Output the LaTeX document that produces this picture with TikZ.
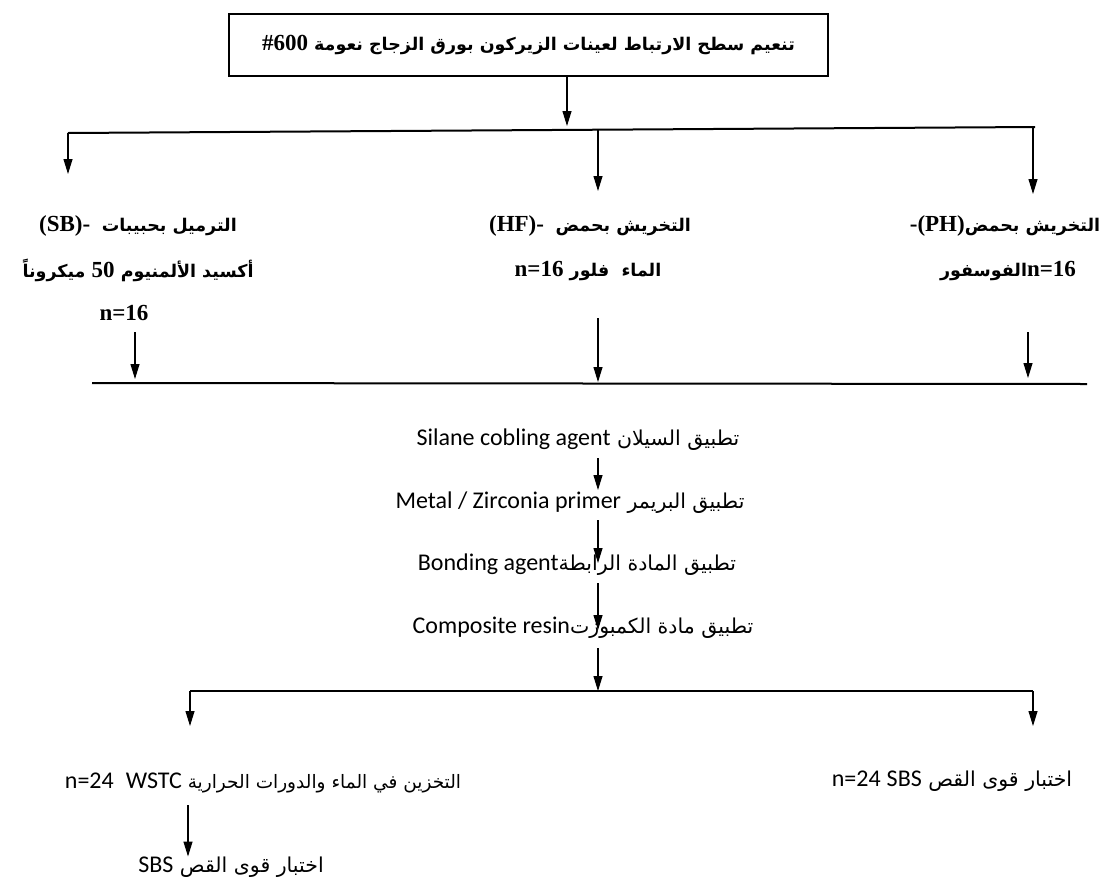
\documentclass[tikz,border=0pt]{standalone}
\usepackage{fontspec}
\setmainfont{Liberation Serif}
\newfontfamily\arb[Script=Arabic]{DejaVu Sans}
\newfontfamily\calf{Carlito}
\newfontfamily\serifb{Liberation Serif Bold}
\TeXXeTstate=1
\usetikzlibrary{arrows.meta}
\tikzset{
  bt/.style={inner sep=0pt, font=\bfseries\fontsize{23}{26}\selectfont},
  rt/.style={inner sep=0pt, font=\fontsize{24}{28}\selectfont},
  ln/.style={line width=1.1pt},
  hl/.style={line width=2pt},
  arr/.style={line width=1.1pt, -{Triangle[length=15pt,width=9pt]}},
  topbox/.style={draw, line width=1.4pt, minimum width=599pt, minimum height=62pt, inner sep=0pt}
}
\newcommand{\AB}[1]{{\arb\fontsize{17.5}{21}\selectfont #1}}
\newcommand{\AR}[1]{{\arb\fontsize{20.5}{24}\selectfont #1}}
\newcommand{\ARs}[1]{{\arb\fontsize{18.5}{22}\selectfont #1}}
\newcommand{\LB}[1]{\beginL{\serifb #1}\endL}
\newcommand{\LC}[1]{\beginL{\calf #1}\endL}
\begin{document}
\begin{tikzpicture}[x=1pt,y=-1pt]
\useasboundingbox (0,0) rectangle (1101,884);
% top box
\node[topbox, bt] (top) at (528.5,45) {\beginR\AB{تنعيم سطح الارتباط لعينات الزيركون بورق الزجاج نعومة }\LB{\#600}\endR};
\coordinate (t1) at (567,126);
\draw[arr] (567,76) -- (t1);
% first branch line
\coordinate (bl) at (68,133);
\coordinate (bm) at (598,130);
\coordinate (br) at (1035,127);
\draw[hl] (bl) -- (br);
\coordinate (al) at (68,174);
\coordinate (am) at (598,191);
\coordinate (ar) at (1033,194);
\draw[arr] (bl) -- (al);
\draw[arr] (bm) -- (am);
\draw[arr] (1033,127) -- (ar);
% left column
\node[bt] (sb1) at (138,226) {\beginR\AB{الترميل بحبيبات}\ \ \LB{(SB)-}\endR};
\node[bt] (sb2) at (138,270) {\beginR\AB{أكسيد الألمنيوم }\LB{50}\AB{ ميكروناً}\endR};
\node[bt] (sb3) at (124,313) {n=16};
% middle column
\node[bt] (hf1) at (590,226) {\beginR\AB{التخريش بحمض}\ \ \LB{(HF)-}\endR};
\node[bt] (hf2) at (588,271) {\beginR\AB{الماء\ \ فلور }\LB{n=16}\endR};
% right column
\node[bt] (ph1) at (1005,226) {\beginR\AB{التخريش بحمض}\LB{-(PH)}\endR};
\node[bt] (ph2) at (1008,271) {\beginR\LB{n=16}\AB{الفوسفور}\endR};
% second line
\coordinate (cl) at (92,383);
\coordinate (cr) at (1087,384);
\draw[hl] (cl) -- (cr);
\draw[arr] (135,332) -- (135,379);
\draw[arr] (598,318) -- (598,382);
\draw[arr] (1028,332) -- (1028,378);
% middle stack
\node[rt] (s1) at (578,440) {\beginR\AR{تطبيق السيلان }\LC{Silane cobling agent}\endR};
\node[rt] (s2) at (570,503) {\beginR\AR{تطبيق البريمر }\LC{Metal / Zirconia primer}\endR};
\node[rt] (s3) at (577,565) {\beginR\AR{تطبيق المادة الرابطة}\LC{Bonding agent}\endR};
\node[rt] (s4) at (583,628) {\beginR\AR{تطبيق مادة الكمبوزت}\LC{Composite resin}\endR};
\draw[arr] (598,458) -- (598,490);
\draw[arr] (598,520) -- (598,563);
\draw[arr] (598,583) -- (598,630);
\draw[arr] (598,648) -- (598,691);
% third line
\coordinate (dl) at (190,691);
\coordinate (dr) at (1033,691);
\draw[ln, line width=1.6pt] (dl) -- (dr);
\draw[arr] (dl) -- (190,726);
\draw[arr] (dr) -- (1033,726);
% bottom texts
\node[rt] (w1) at (263,783) {\beginR\ARs{التخزين في الماء والدورات الحرارية }\LC{WSTC}\ \ \LC{n=24}\endR};
\node[rt] (w2) at (231,867) {\beginR\AR{اختبار قوى القص }\LC{SBS}\endR};
\draw[arr] (188,805) -- (w2.north -| 188,0);
\node[rt] (r1) at (952,781) {\beginR\AR{اختبار قوى القص }\LC{SBS}\ \LC{n=24}\endR};
\end{tikzpicture}
\end{document}
